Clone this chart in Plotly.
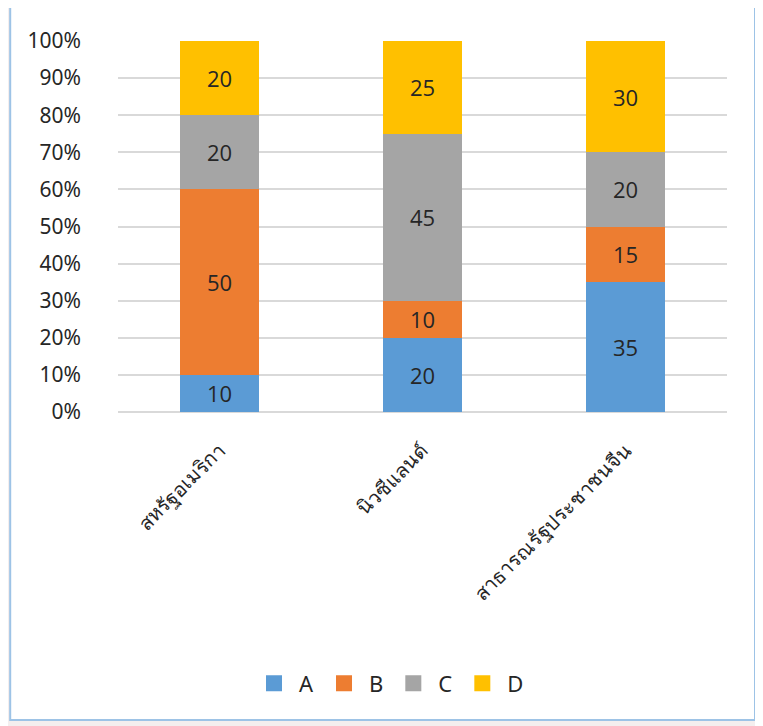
import plotly.graph_objects as go

categories = ["สหรัฐอเมริกา", "นิวซีแลนด์", "สาธารณรัฐประชาชนจีน"]
series_names = ["A", "B", "C", "D"]
values_A = [10, 20, 35]
values_B = [50, 10, 15]
values_C = [20, 45, 20]
values_D = [20, 25, 30]
colors = ["#5B9BD5", "#ED7D31", "#A5A5A5", "#FFC000"]
y_ticks = [0, 10, 20, 30, 40, 50, 60, 70, 80, 90, 100]

fig = go.Figure()
for name, vals, col in zip(series_names, [values_A, values_B, values_C, values_D], colors):
    fig.add_trace(go.Bar(
        name=name, x=categories, y=vals, marker=dict(color=col, line=dict(width=0)),
        text=[str(v) for v in vals], textposition="inside", insidetextanchor="middle",
        textfont=dict(size=22, color="#262626", family="Open Sans"), width=0.39,
        showlegend=False,
    ))
# legend entries with larger square swatches
for name, col in zip(series_names, colors):
    fig.add_trace(go.Scatter(
        name=name, x=[None], y=[None], mode="markers",
        marker=dict(symbol="square", size=22, color=col), showlegend=True,
    ))

fig.update_layout(
    barmode="stack", width=763, height=726,
    margin=dict(l=110, r=44, t=33, b=322),
    paper_bgcolor="#f4eeee", plot_bgcolor="white",
    font=dict(family="Noto Sans, Open Sans, sans-serif", color="#262626"),
    showlegend=True,
    legend=dict(orientation="h", x=0.445, xanchor="center", y=-0.675, yanchor="top",
                font=dict(size=22, color="#262626"), traceorder="normal",
                bgcolor="rgba(0,0,0,0)", itemwidth=40),
    shapes=[dict(type="rect", xref="paper", yref="paper", x0=-0.177, x1=1.046, y0=-0.83, y1=1.102,
                 fillcolor="white", line=dict(color="#9dc3e6", width=2), layer="below")],
)
fig.update_yaxes(range=[0, 100], tickvals=y_ticks, ticktext=[f"{t}%" for t in y_ticks],
                 showgrid=True, gridcolor="#d9d9d9", gridwidth=1.5, zeroline=True,
                 zerolinecolor="#d9d9d9", zerolinewidth=1.5, ticklabelstandoff=36,
                 tickfont=dict(size=21, color="#262626"), ticks="", ticklen=0)
fig.update_xaxes(tickangle=-45, tickfont=dict(size=20, color="#262626"), showline=False, ticks="",
                 ticklabelstandoff=22)
fig.write_html("out.html")
